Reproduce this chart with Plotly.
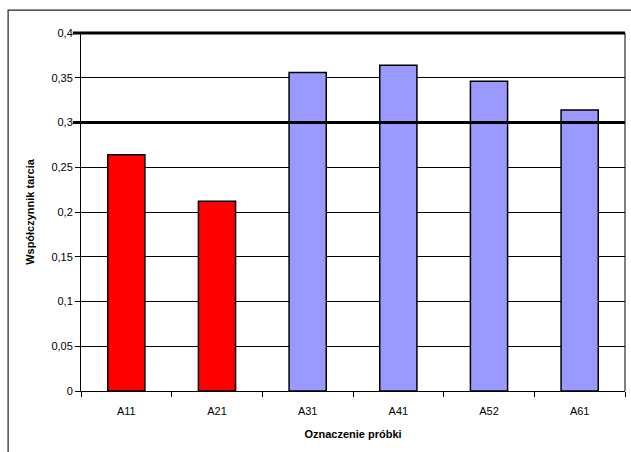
import plotly.graph_objects as go

categories = ["A11", "A21", "A31", "A41", "A52", "A61"]
values = [0.264, 0.212, 0.356, 0.364, 0.346, 0.314]
colors = ["#FF0000", "#FF0000", "#9999FF", "#9999FF", "#9999FF", "#9999FF"]
thick_lines = [0.3, 0.4]
y_max = 0.4

fig = go.Figure()
fig.add_trace(go.Bar(
    x=categories, y=values,
    marker=dict(color=colors, line=dict(color="black", width=1.5)),
    width=0.41,
))

shapes = []
for v in thick_lines:
    shapes.append(dict(type="line", xref="paper", yref="paper", x0=-0.015, x1=1.0,
                       y0=v / y_max, y1=v / y_max, line=dict(color="black", width=3),
                       layer="above"))
# right border of plot area
shapes.append(dict(type="line", xref="paper", yref="paper", x0=1, x1=1, y0=0, y1=1,
                   line=dict(color="black", width=1)))
# outer chart frame
shapes.append(dict(type="rect", xref="paper", yref="paper", x0=-0.134, x1=1.3,
                   y0=-0.25, y1=1.064, line=dict(color="#222222", width=1.2)))

fig.update_layout(
    width=631, height=452,
    margin=dict(l=81, r=6, t=33, b=61),
    paper_bgcolor="white", plot_bgcolor="white",
    separators=", ",
    showlegend=False,
    font=dict(family="Liberation Sans, Arial, sans-serif", size=11, color="black"),
    shapes=shapes,
    bargap=0.59,
)
fig.update_xaxes(
    showline=True, linecolor="black", linewidth=1,
    ticks="outside", tickson="boundaries", ticklen=5, tickcolor="black",
    ticklabelstandoff=10,
    showgrid=False,
    title=dict(text="<b>Oznaczenie próbki</b>", font=dict(size=11), standoff=14),
    tickfont=dict(size=11),
)
fig.update_yaxes(
    range=[0, y_max], dtick=0.05,
    showline=True, linecolor="black", linewidth=1,
    ticks="outside", ticklen=5, tickcolor="black",
    showgrid=True, gridcolor="black", gridwidth=1,
    zeroline=False,
    title=dict(text="<b>Współczynnik tarcia</b>", font=dict(size=11), standoff=14),
    tickfont=dict(size=11),
)

fig.write_html("out.html")
